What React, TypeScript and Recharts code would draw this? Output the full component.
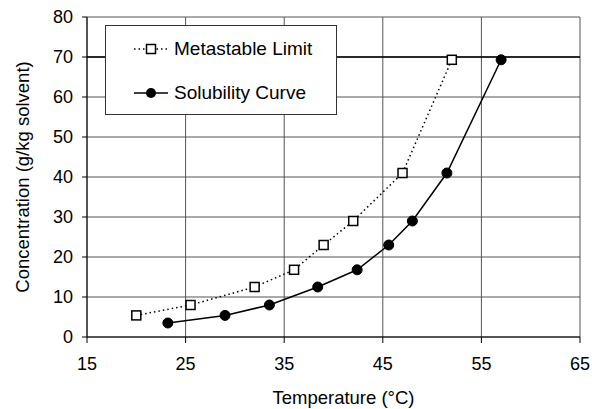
import React from "react"
import {
  LineChart,
  Line,
  XAxis,
  YAxis,
  CartesianGrid,
  ReferenceLine,
  Legend,
} from "recharts"

document.body.style.margin = "0"

// temperatures (°C) and concentrations (g/kg solvent)
const metastableTemp = [20, 25.5, 32, 36, 39, 42, 47, 52]
const metastableConc = [5.4, 8, 12.5, 16.8, 23, 29, 41, 69.3]
const solubilityTemp = [23.2, 29, 33.5, 38.4, 42.4, 45.6, 48, 51.5, 57]
const solubilityConc = [3.5, 5.4, 8, 12.5, 16.8, 23, 29, 41, 69.3]
const xTicks = [15, 25, 35, 45, 55, 65]
const yTicks = [0, 10, 20, 30, 40, 50, 60, 70, 80]
const limitConc = 70

const metastable = metastableTemp.map((t, i) => ({ temp: t, conc: metastableConc[i] }))
const solubility = solubilityTemp.map((t, i) => ({ temp: t, conc: solubilityConc[i] }))

const FONT = "'Liberation Sans', Arial, sans-serif"

const SquareDot = (props: any) => {
  const { cx, cy } = props
  if (cx == null || cy == null) return null
  return <rect x={cx - 4.5} y={cy - 4.5} width={9} height={9} fill="#fff" stroke="#000" strokeWidth={1.5} />
}

const CircleDot = (props: any) => {
  const { cx, cy } = props
  if (cx == null || cy == null) return null
  return <circle cx={cx} cy={cy} r={5} fill="#000" stroke="#000" />
}

function LegendBox() {
  const row = (label: string, dotted: boolean) => (
    <div style={{ display: "flex", alignItems: "center", height: 44 }}>
      <svg width={36} height={14} style={{ marginRight: 5 }}>
        <line
          x1={1}
          x2={35}
          y1={7}
          y2={7}
          stroke="#000"
          strokeWidth={1.5}
          strokeDasharray={dotted ? "1.5 3" : undefined}
        />
        {dotted ? (
          <rect x={13.5} y={2.5} width={9} height={9} fill="#fff" stroke="#000" strokeWidth={1.5} />
        ) : (
          <circle cx={18} cy={7} r={5} fill="#000" />
        )}
      </svg>
      <span>{label}</span>
    </div>
  )
  return (
    <div
      style={{
        width: 232,
        height: 90,
        border: "1px solid #333",
        background: "#fff",
        fontFamily: FONT,
        fontSize: 19,
        color: "#000",
        paddingLeft: 27,
        boxSizing: "border-box",
        paddingTop: 1,
      }}
    >
      {row("Metastable Limit", true)}
      {row("Solubility Curve", false)}
    </div>
  )
}

export default function App() {
  return (
    <LineChart width={592} height={409} margin={{ top: 17, right: 12, left: 0, bottom: 0 }}>
      <CartesianGrid stroke="#555" strokeWidth={1} />
      <XAxis
        dataKey="temp"
        type="number"
        domain={[15, 65]}
        ticks={xTicks}
        allowDataOverflow
        height={72}
        tickSize={6}
        tickMargin={14}
        stroke="#000"
        tick={{ fill: "#000", fontSize: 18, fontFamily: FONT }}
        label={{
          value: "Temperature (°C)",
          position: "insideBottom",
          offset: 5,
          dx: 10,
          fill: "#000",
          fontSize: 18.5,
          fontFamily: FONT,
        }}
      />
      <YAxis
        dataKey="conc"
        type="number"
        domain={[0, 80]}
        ticks={yTicks}
        width={87}
        tickSize={5}
        tickMargin={9}
        stroke="#000"
        tick={{ fill: "#000", fontSize: 18, fontFamily: FONT }}
        label={{
          value: "Concentration (g/kg solvent)",
          angle: -90,
          position: "insideLeft",
          offset: 22,
          style: { textAnchor: "middle" },
          fill: "#000",
          fontSize: 18.5,
          fontFamily: FONT,
        }}
      />
      <ReferenceLine y={limitConc} stroke="#000" strokeWidth={1.5} />
      <Legend
        layout="vertical"
        align="center"
        verticalAlign="middle"
        wrapperStyle={{ left: 105, top: 25, width: 232 }}
        content={() => <LegendBox />}
      />
      <Line
        data={metastable}
        dataKey="conc"
        name="Metastable Limit"
        stroke="#000"
        strokeWidth={1.5}
        strokeDasharray="1.5 3"
        dot={<SquareDot />}
        activeDot={false}
        isAnimationActive={false}
      />
      <Line
        data={solubility}
        dataKey="conc"
        name="Solubility Curve"
        stroke="#000"
        strokeWidth={1.5}
        dot={<CircleDot />}
        activeDot={false}
        isAnimationActive={false}
      />
    </LineChart>
  )
}
